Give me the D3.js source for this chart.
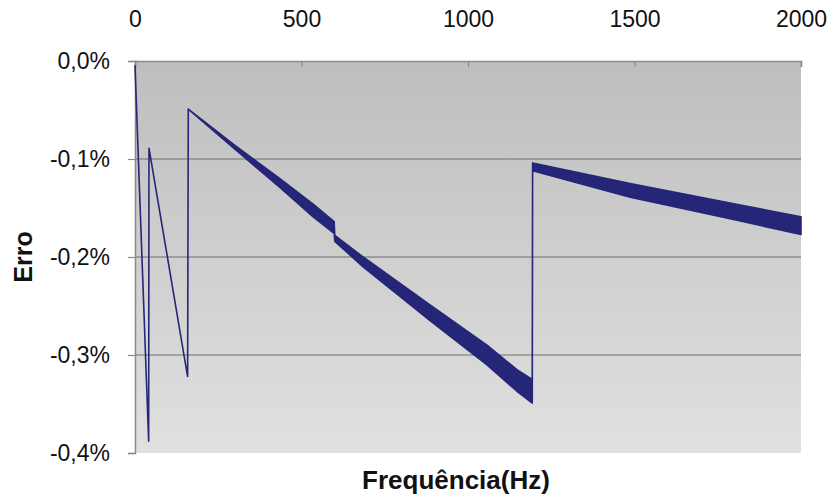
<!DOCTYPE html>
<html lang="pt">
<head>
<meta charset="UTF-8">
<title>Erro x Frequência</title>
<script src="https://d3js.org/d3.v7.min.js"></script>
<style>
  body { margin: 0; background: #fff; }
  svg { display: block; font-family: "Liberation Sans", Arial, sans-serif; }
</style>
</head>
<body>
<div id="chart"></div>
<script>

var freq     = [0, 41, 42, 158, 160, 300, 435, 535, 598, 600, 685, 886, 1057, 1147, 1193, 1194, 1487, 1787, 2000];
var errLower = [-0.005, -0.388, -0.089, -0.322, -0.049, -0.090, -0.129, -0.159, -0.176, -0.184, -0.210, -0.265, -0.310, -0.337, -0.349, -0.112, -0.139, -0.161, -0.177];
var errUpper = [-0.005, -0.388, -0.089, -0.322, -0.049, -0.086, -0.120, -0.146, -0.164, -0.178, -0.200, -0.249, -0.290, -0.315, -0.325, -0.104, -0.125, -0.145, -0.159];

var xTicks = [0, 500, 1000, 1500, 2000];
var yTicks = [0, -0.1, -0.2, -0.3, -0.4];

var width = 830, height = 496;
var margin = {top: 61, right: 29, bottom: 43, left: 135};

var data = freq.map((f, i) => ({f: f, lo: errLower[i], hi: errUpper[i]}));

var x = d3.scaleLinear().domain([0, 2000]).range([margin.left, width - margin.right]);
var y = d3.scaleLinear().domain([0, -0.4]).range([margin.top, height - margin.bottom]);

var svg = d3.select("#chart").append("svg")
    .attr("width", width)
    .attr("height", height);

var grad = svg.append("defs").append("linearGradient")
    .attr("id", "bg")
    .attr("x1", 0).attr("y1", 0).attr("x2", 0).attr("y2", 1);
grad.append("stop").attr("offset", "0%").attr("stop-color", "#bebebe");
grad.append("stop").attr("offset", "100%").attr("stop-color", "#e0e0e0");

svg.append("rect")
    .attr("x", x(0))
    .attr("y", y(0))
    .attr("width", x(2000) - x(0))
    .attr("height", y(-0.4) - y(0))
    .attr("fill", "url(#bg)");

// grid lines
svg.append("g")
    .selectAll("line")
    .data(yTicks.filter(d => d !== 0 && d !== -0.4))
    .join("line")
    .attr("x1", x(0)).attr("x2", x(2000))
    .attr("y1", d => y(d)).attr("y2", d => y(d))
    .attr("stroke", "#6e6e6e")
    .attr("stroke-width", 1.2);

// top axis
var xAxis = svg.append("g")
    .attr("transform", `translate(0,${margin.top})`)
    .call(d3.axisTop(x).tickValues(xTicks).tickSize(-6).tickPadding(34).tickFormat(d3.format("d")));
xAxis.select(".domain").attr("stroke", "#8a8a8a").attr("stroke-width", 1.5);
xAxis.selectAll(".tick line").attr("stroke", "#8a8a8a").attr("stroke-width", 1.2);
xAxis.selectAll("text").attr("font-size", 23).attr("fill", "#111");

// left axis
var fmt = d => d3.format(".1f")(d).replace("−", "-").replace(".", ",") + "%";
var yAxis = svg.append("g")
    .attr("transform", `translate(${margin.left},0)`)
    .call(d3.axisLeft(y).tickValues(yTicks).tickSize(7).tickPadding(18).tickFormat(fmt));
yAxis.select(".domain").attr("stroke", "#8a8a8a").attr("stroke-width", 1.5);
yAxis.selectAll(".tick line").attr("stroke", "#8a8a8a").attr("stroke-width", 1.2);
yAxis.selectAll("text").attr("font-size", 23).attr("fill", "#111");

// error trace
var area = d3.area()
    .x(d => x(d.f))
    .y0(d => y(d.lo))
    .y1(d => y(d.hi));

svg.append("path")
    .datum(data)
    .attr("d", area)
    .attr("fill", "#262678")
    .attr("stroke", "#262678")
    .attr("stroke-width", 1.6)
    .attr("stroke-linejoin", "round");

// axis titles
svg.append("text")
    .attr("x", 456)
    .attr("y", 489)
    .attr("text-anchor", "middle")
    .attr("font-size", 26)
    .attr("font-weight", "bold")
    .attr("fill", "#111")
    .text("Frequência(Hz)");

svg.append("text")
    .attr("transform", "translate(32,257) rotate(-90)")
    .attr("text-anchor", "middle")
    .attr("font-size", 25)
    .attr("font-weight", "bold")
    .attr("fill", "#111")
    .text("Erro");

</script>
</body>
</html>
